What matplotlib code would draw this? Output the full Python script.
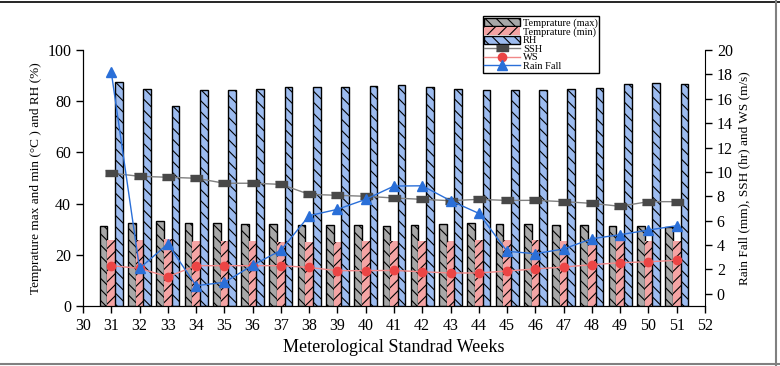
import matplotlib

matplotlib.use("Agg")
import matplotlib.pyplot as plt
from matplotlib.lines import Line2D
import numpy as np

# --- data ---
weeks = list(range(31, 52))
t_max = [31.3, 32.3, 33.2, 32.3, 32.3, 31.9, 31.9, 31.5, 31.6, 31.6, 31.4,
         31.6, 32.0, 32.3, 32.0, 32.0, 31.8, 31.8, 31.3, 31.3, 31.0]
t_min = [25.7, 25.7, 26.0, 25.4, 25.4, 25.3, 25.0, 25.0, 25.0, 25.4, 25.4,
         25.2, 25.4, 25.7, 25.8, 25.7, 25.4, 25.4, 25.4, 25.4, 25.4]
rh = [87.4, 84.9, 78.2, 84.2, 84.5, 84.6, 85.4, 85.4, 85.7, 86.1, 86.4,
      85.4, 84.9, 84.5, 84.5, 84.4, 84.6, 85.3, 86.7, 87.0, 86.7]
ssh = [9.9, 9.64, 9.56, 9.48, 9.07, 9.07, 8.98, 8.16, 8.08, 8.0, 7.86,
       7.75, 7.64, 7.75, 7.66, 7.67, 7.56, 7.42, 7.18, 7.56, 7.56]
ws = [2.31, 2.09, 1.4, 2.31, 2.31, 2.31, 2.31, 2.16, 1.9, 1.9, 1.92,
      1.81, 1.71, 1.71, 1.87, 2.04, 2.2, 2.39, 2.55, 2.63, 2.75]
rain = [18.2, 2.09, 4.09, 0.67, 0.94, 2.34, 3.57, 6.41, 6.93, 7.75, 8.84,
        8.86, 7.64, 6.6, 3.49, 3.29, 3.68, 4.52, 4.85, 5.23, 5.59]

plt.rcParams["font.family"] = ["Liberation Serif", "DejaVu Serif"]
plt.rcParams["hatch.linewidth"] = 0.8

fig = plt.figure(figsize=(7.8, 3.66), dpi=100)
ax = fig.add_axes([0.1064, 0.1639, 0.7974, 0.6995])
ax2 = ax.twinx()

x = np.array(weeks)
w = 0.27
b1 = ax.bar(x - w, t_max, w, color="#a8a8a8", edgecolor="black", lw=1,
            hatch="\\\\\\", label="Temprature (max)")
b2 = ax.bar(x, t_min, w, color="#f4a4a4", edgecolor="black", lw=0,
            hatch="///", label="Temprature (min)")
b3 = ax.bar(x + w, rh, w, color="#9dbcf0", edgecolor="black", lw=1,
            hatch="\\\\\\", label="RH")

rect = [(-1, -0.45), (1, -0.45), (1, 0.45), (-1, 0.45)]
l1, = ax2.plot(weeks, ssh, color="#808080", lw=1, marker=rect, ms=9,
               mfc="#484848", mec="#484848", label="SSH")
l2, = ax2.plot(weeks, ws, color="#f08888", lw=1, marker="o", ms=6,
               mfc="#ec4545", mec="#ec4545", label="WS")
l3, = ax2.plot(weeks, rain, color="#2a6fd8", lw=1, marker="^", ms=7,
               mfc="#2a6fd8", mec="#2a6fd8", label="Rain Fall")

ax.set_xlim(30, 52)
ax.set_ylim(0, 100)
ax.set_xticks(range(30, 53))
ax.set_yticks(range(0, 101, 20))
ax2.set_ylim(-1, 20)
ax2.set_yticks(range(0, 21, 2))

for a in (ax, ax2):
    a.spines["top"].set_visible(False)
    a.tick_params(direction="out", labelsize=11.5, length=5, width=1)
ax.spines["right"].set_visible(False)

ax.set_xlabel("Meterological Standrad Weeks", fontsize=13)
ax.set_ylabel("Temprature max and min (°C ) and RH (%)", fontsize=9.5)
ax2.set_ylabel("Rain Fall (mm), SSH (hr) and WS (m/s)", fontsize=9.5)

leg = ax2.legend([b1, b2, b3, l1, l2, l3],
                 [h.get_label() for h in (b1, b2, b3, l1, l2, l3)],
                 loc="upper left", bbox_to_anchor=(0.619, 0.955),
                 bbox_transform=fig.transFigure, fontsize=7.5,
                 labelspacing=-0.1, handlelength=3.4, handleheight=0.8,
                 handletextpad=0.3, borderpad=0.15, borderaxespad=0,
                 fancybox=False, framealpha=1)
leg.get_frame().set_edgecolor("black")
leg.get_frame().set_linewidth(1)

# thin frame lines that border the original image
fig.add_artist(Line2D([0, 1], [0.995, 0.995], color="black", lw=1.2,
                      transform=fig.transFigure))
fig.add_artist(Line2D([0.995, 0.995], [0, 1], color="#808080", lw=1.5,
                      transform=fig.transFigure))
fig.add_artist(Line2D([0, 1], [0.005, 0.005], color="#808080", lw=1.5,
                      transform=fig.transFigure))

fig.savefig("out.png", dpi=100)
